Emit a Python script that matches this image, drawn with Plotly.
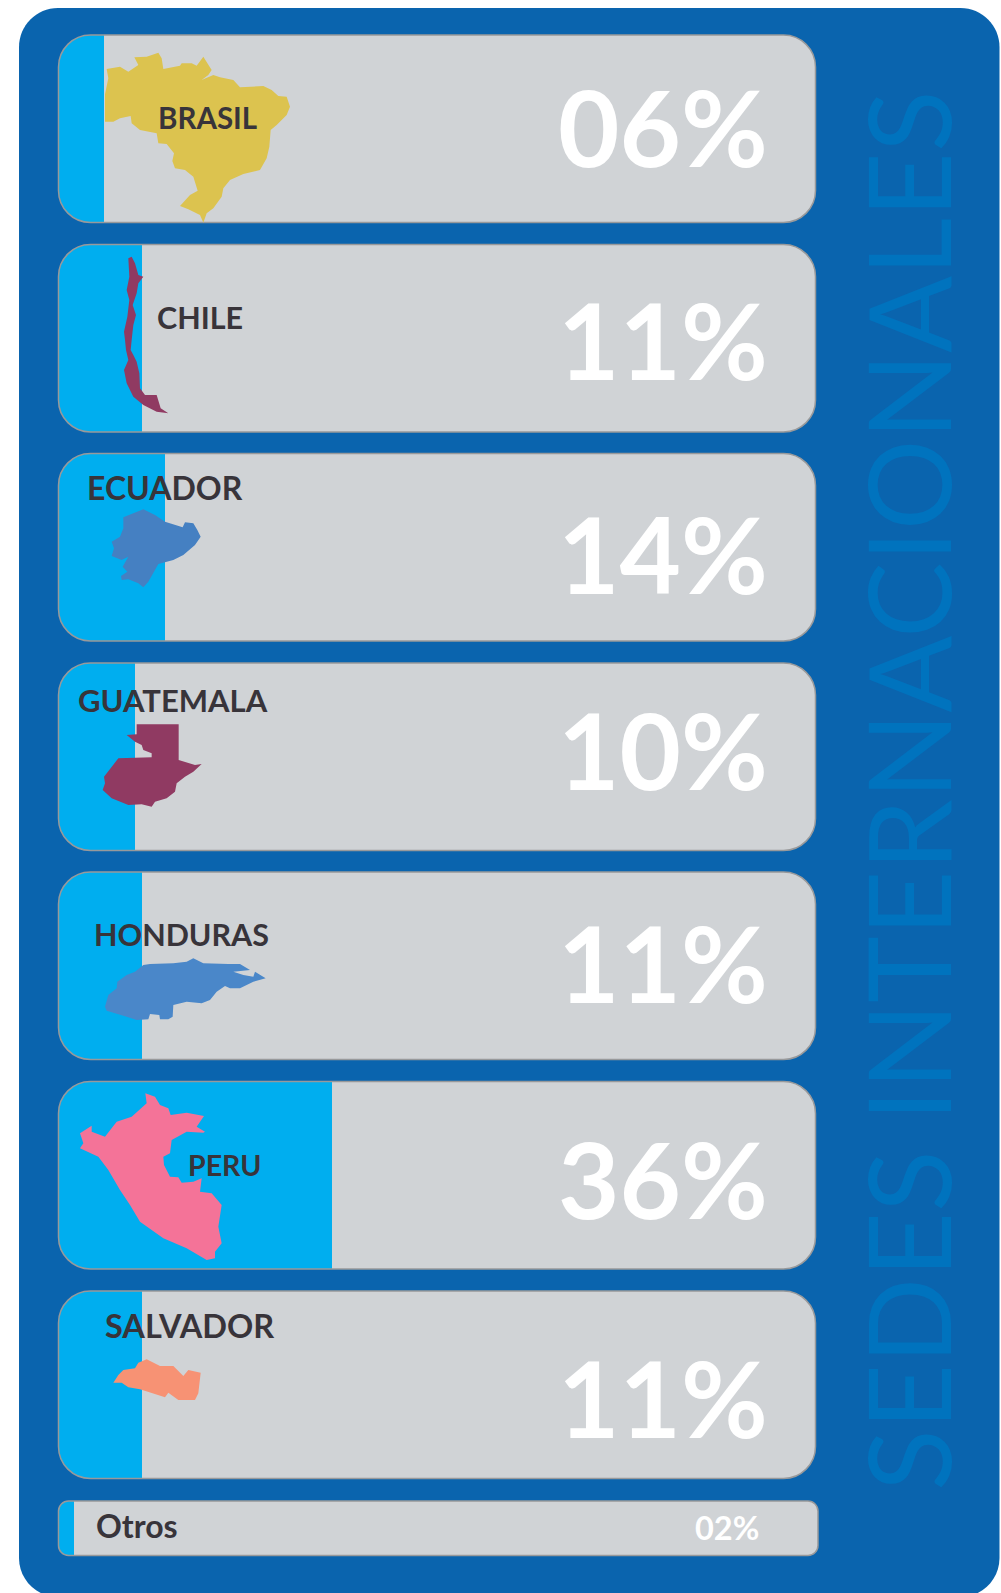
import plotly.graph_objects as go

# ---------- data ----------
countries = ["BRASIL", "CHILE", "ECUADOR", "GUATEMALA", "HONDURAS", "PERU", "SALVADOR", "Otros"]
percent = [6, 11, 14, 10, 11, 36, 11, 2]
title = "SEDES INTERNACIONALES"

# ---------- layout constants (pixels) ----------
W, H = 1001, 1593
CARD_L, CARD_R, CARD_H, CARD_R_RAD = 58.5, 815.5, 187.5, 32
card_tops = [35, 244.5, 453.5, 663, 872, 1081.5, 1291]
OTROS_TOP, OTROS_H, OTROS_R, OTROS_RAD = 1501, 54.5, 818, 10
PX_PER_PCT = 7.6

NAVY = "#0a64ae"; GREY = "#d0d3d6"; CYAN = "#00aeef"; EDGE = "#98999b"
DARK = "#38343a"; TITLE = "#0073be"

label_pos = [(207.5, 117.7), (200, 317), (165, 488), (173, 699.5),
             (181, 934), (224, 1165), (189.5, 1325), (136.5, 1525)]
label_size = [29.5, 30.5, 32, 31, 30.5, 28.5, 32.5, 32]
pct_y = [126, 339, 553, 749, 962, 1178, 1397]

# silhouettes: zoom-crop coordinates (3x) and crop offset
silhouettes = [
 ("#dcc34f", 0, 0, [(315,283),(325,235),(320,207),(360,200),(385,215),(415,195),(403,172),(440,170),(475,158),(485,175),(490,207),(540,197),(545,190),(575,190),(590,197),(610,170),(635,210),(625,225),(605,240),(640,225),(660,232),(700,240),(720,262),(790,258),(815,270),(835,288),(860,290),(870,320),(860,345),(830,375),(812,390),(808,440),(800,475),(780,510),(730,522),(690,540),(670,565),(665,590),(640,625),(620,640),(610,668),(600,645),(565,628),(540,618),(570,585),(593,572),(580,530),(555,510),(525,505),(517,483),(522,460),(500,432),(475,430),(470,400),(420,390),(395,370),(392,348),(360,355),(340,365),(315,365)]),
 ("#903a62", 0, 0, [(385,775),(395,770),(405,790),(415,825),(430,830),(415,850),(410,880),(398,915),(408,945),(400,975),(395,1020),(392,1050),(400,1065),(410,1085),(418,1120),(420,1165),(435,1185),(470,1185),(482,1225),(505,1240),(470,1235),(430,1215),(400,1190),(380,1150),(372,1110),(385,1080),(378,1050),(375,1020),(372,995),(382,950),(388,900),(380,870),(388,830)]),
 ("#4580c2", 40, 440, [(250,232),(310,208),(345,225),(375,245),(428,262),(435,247),(460,250),(472,270),(482,290),(465,315),(430,345),(400,360),(355,372),(325,425),(310,442),(295,430),(265,418),(245,420),(243,408),(262,395),(248,380),(265,350),(245,360),(215,348),(222,325),(215,305),(240,290),(250,265)]),
 ("#903a62", 40, 440, [(290,853),(416,853),(416,960),(465,975),(485,972),(460,995),(435,1010),(410,1030),(405,1055),(380,1075),(345,1085),(335,1100),(305,1093),(265,1095),(215,1075),(188,1050),(195,1030),(192,1010),(235,955),(335,952),(335,940),(310,930),(305,915),(285,905),(260,885),(290,883)]),
 ("#4a87c9", 40, 860, [(195,440),(205,405),(230,385),(232,365),(260,345),(285,335),(310,315),(330,312),(400,310),(440,305),(460,295),(490,310),(565,312),(600,312),(630,330),(580,335),(610,345),(640,350),(645,335),(677,355),(640,365),(600,385),(570,385),(555,378),(530,395),(510,420),(485,430),(440,425),(400,435),(398,470),(385,478),(360,478),(358,465),(330,462),(325,478),(290,480),(260,470),(225,460),(200,452)]),
 ("#f47398", 40, 860, [(316,700),(345,710),(360,735),(385,745),(392,765),(440,758),(492,768),(470,800),(495,815),(490,818),(440,815),(395,840),(390,880),(370,890),(372,915),(390,950),(415,952),(425,968),(460,965),(485,955),(480,995),(515,1000),(545,1035),(535,1100),(545,1150),(525,1175),(525,1195),(500,1200),(440,1165),(370,1135),(300,1085),(270,1035),(240,990),(205,930),(175,890),(120,865),(130,850),(120,820),(155,797),(155,815),(195,830),(230,785),(275,770),(320,730)]),
 ("#f79274", 40, 1280, [(220,308),(235,285),(250,270),(285,265),(295,248),(320,238),(360,258),(400,258),(430,288),(445,270),(482,278),(475,340),(465,360),(415,360),(385,338),(375,352),(300,328),(265,322),(245,308)]),
]

# ---------- helpers ----------
def X(p): return p / W
def Y(p): return 1 - p / H
K = 0.5523

def rr_path(x0, y0, x1, y1, r):
    c = r * (1 - K)
    pts = [f"M {X(x0+r)} {Y(y0)}", f"L {X(x1-r)} {Y(y0)}",
           f"C {X(x1-c)} {Y(y0)} {X(x1)} {Y(y0+c)} {X(x1)} {Y(y0+r)}",
           f"L {X(x1)} {Y(y1-r)}",
           f"C {X(x1)} {Y(y1-c)} {X(x1-c)} {Y(y1)} {X(x1-r)} {Y(y1)}",
           f"L {X(x0+r)} {Y(y1)}",
           f"C {X(x0+c)} {Y(y1)} {X(x0)} {Y(y1-c)} {X(x0)} {Y(y1-r)}",
           f"L {X(x0)} {Y(y0+r)}",
           f"C {X(x0)} {Y(y0+c)} {X(x0+c)} {Y(y0)} {X(x0+r)} {Y(y0)} Z"]
    return " ".join(pts)

def mask_paths(x0, y0, y1, r):
    c = r * (1 - K)
    e = 1.0  # bleed past the corner
    top = (f"M {X(x0-e)} {Y(y0-e)} L {X(x0+r)} {Y(y0-e)} L {X(x0+r)} {Y(y0)} "
           f"C {X(x0+c)} {Y(y0)} {X(x0)} {Y(y0+c)} {X(x0)} {Y(y0+r)} L {X(x0-e)} {Y(y0+r)} Z")
    bot = (f"M {X(x0-e)} {Y(y1+e)} L {X(x0+r)} {Y(y1+e)} L {X(x0+r)} {Y(y1)} "
           f"C {X(x0+c)} {Y(y1)} {X(x0)} {Y(y1-c)} {X(x0)} {Y(y1-r)} L {X(x0-e)} {Y(y1-r)} Z")
    return top, bot

shapes = []
def add(path, fill=None, line=None, lw=0, layer="above"):
    shapes.append(dict(type="path", path=path, xref="paper", yref="paper", layer=layer,
                       fillcolor=fill if fill else "rgba(0,0,0,0)",
                       line=dict(color=line if line else "rgba(0,0,0,0)", width=lw)))

# panel
add(rr_path(19, 8, 999.5, 1597, 39), fill=NAVY, layer="below")

# cards
card_boxes = [(CARD_L, t, CARD_R, t + CARD_H, CARD_R_RAD) for t in card_tops]
card_boxes.append((CARD_L, OTROS_TOP, OTROS_R, OTROS_TOP + OTROS_H, OTROS_RAD))
for x0, y0, x1, y1, r in card_boxes:
    add(rr_path(x0, y0, x1, y1, r), fill=GREY, layer="below")
for x0, y0, x1, y1, r in card_boxes:
    for m in mask_paths(x0, y0, y1, r):
        add(m, fill=NAVY)
    add(rr_path(x0, y0, x1, y1, r), line=EDGE, lw=1.5)

# silhouettes
for col, ox, oy, pts in silhouettes:
    d = "M " + " L ".join(f"{X(ox + a/3)} {Y(oy + b/3)}" for a, b in pts) + " Z"
    add(d, fill=col)

# bars
centres = [(b[1] + b[3]) / 2 for b in card_boxes]
heights = [b[3] - b[1] for b in card_boxes]
fig = go.Figure(go.Bar(x=percent, y=centres, width=heights, orientation="h",
                       marker=dict(color=CYAN, line=dict(width=0)),
                       hoverinfo="skip", showlegend=False))

# text
ann = []
LABEL_FONT = "Lato"
for name, (lx, ly), fs in zip(countries, label_pos, label_size):
    ann.append(dict(text=f"<b>{name}</b>", x=X(lx), y=Y(ly), xref="paper", yref="paper",
                    xanchor="center", yanchor="middle", showarrow=False,
                    font=dict(family=LABEL_FONT, size=fs, color=DARK)))
for v, py in zip(percent[:-1], pct_y):
    ann.append(dict(text=f"<b>{v:02d}%</b>", x=X(770), y=Y(py), xref="paper", yref="paper",
                    xanchor="right", yanchor="middle", showarrow=False,
                    font=dict(family=LABEL_FONT, size=106, color="white")))
ann.append(dict(text=f"<b>{percent[-1]:02d}%</b>", x=X(761), y=Y(1527), xref="paper", yref="paper",
                xanchor="right", yanchor="middle", showarrow=False,
                font=dict(family=LABEL_FONT, size=32.5, color="white")))
ann.append(dict(text=title, x=X(907), y=Y(791), xref="paper", yref="paper", textangle=-90,
                xanchor="center", yanchor="middle", showarrow=False,
                font=dict(family="Lato", size=113.5, color=TITLE)))

fig.update_layout(
    width=W, height=H, margin=dict(l=0, r=0, t=0, b=0), autosize=False,
    paper_bgcolor="white", plot_bgcolor="rgba(0,0,0,0)",
    xaxis=dict(range=[-CARD_L / PX_PER_PCT, (W - CARD_L) / PX_PER_PCT], visible=False, fixedrange=True),
    yaxis=dict(range=[H, 0], visible=False, fixedrange=True),
    shapes=shapes, annotations=ann, showlegend=False, bargap=0,
)
fig.write_html("out.html", config=dict(displayModeBar=False),
               post_script="document.body.style.margin='0';document.documentElement.style.overflow='hidden';")
